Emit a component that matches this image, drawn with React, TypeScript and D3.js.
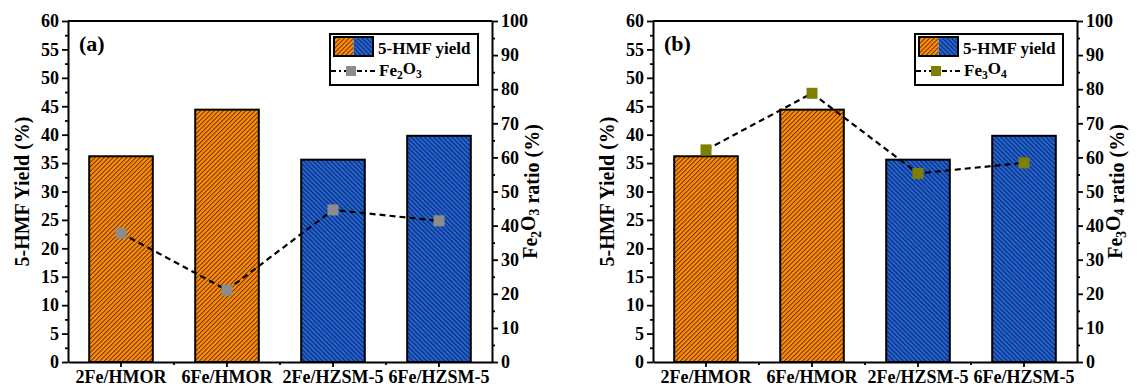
import React, { useEffect, useRef } from "react";
import * as d3 from "d3";

// values
const categories = ["2Fe/HMOR", "6Fe/HMOR", "2Fe/HZSM-5", "6Fe/HZSM-5"];
const supports = ["HMOR", "HMOR", "HZSM-5", "HZSM-5"];
const yieldValues = [36.2, 44.4, 35.6, 39.8];
const fe2o3Ratio = [37.8, 21.1, 44.6, 41.4];
const fe3o4Ratio = [62.2, 78.8, 55.3, 58.4];
const yieldTicks = [0, 5, 10, 15, 20, 25, 30, 35, 40, 45, 50, 55, 60];
const ratioTicks = [0, 10, 20, 30, 40, 50, 60, 70, 80, 90, 100];

const FONT = '"Liberation Serif", "Times New Roman", serif';
const W = 1145, H = 390;
const top = 21, plotH = 341, plotW = 424;

const x = d3.scaleBand().domain(categories).range([0, plotW]).paddingInner(0.4).paddingOuter(0.2);
const yL = d3.scaleLinear().domain([0, 60]).range([plotH, 0]);
const yR = d3.scaleLinear().domain([0, 100]).range([plotH, 0]);
const fillFor = (s) => (s === "HMOR" ? "url(#hatchOrange)" : "url(#hatchBlue)");

function Oxide({ parts }) {
  // parts like ["Fe","2","O","3"]
  return (
    <>
      <tspan>{parts[0]}</tspan>
      <tspan fontSize="0.68em" dy="0.3em">{parts[1]}</tspan>
      <tspan dy="-0.3em">{parts[2]}</tspan>
      <tspan fontSize="0.68em" dy="0.3em">{parts[3]}</tspan>
      <tspan dy="-0.3em"></tspan>
    </>
  );
}

function Panel({ left, tag, ratio, markerFill, oxide }) {
  const gRef = useRef(null);

  useEffect(() => {
    const g = d3.select(gRef.current);
    const style = (sel) => {
      sel.selectAll("path.domain").attr("stroke", "#000").attr("stroke-width", 2);
      sel.selectAll(".tick line").attr("stroke", "#000").attr("stroke-width", 1.8);
      sel.selectAll(".tick text").attr("font-family", FONT).attr("font-weight", "bold").attr("font-size", 18).attr("fill", "#000");
    };
    g.select(".gyl").call(d3.axisLeft(yL).tickValues(yieldTicks).tickSize(6).tickSizeOuter(0).tickPadding(3)).call(style);
    g.select(".gylm").call(d3.axisLeft(yL).tickValues(yieldTicks.slice(1).map((t) => t - 2.5)).tickSize(3).tickFormat(() => "")).call(style);
    g.select(".gyr").call(d3.axisRight(yR).tickValues(ratioTicks).tickSize(6).tickSizeOuter(0).tickPadding(3)).call(style);
    g.select(".gyrm").call(d3.axisRight(yR).tickValues(ratioTicks.slice(1).map((t) => t - 5)).tickSize(3).tickFormat(() => "")).call(style);
    g.select(".gx").call(d3.axisBottom(x).tickSize(5).tickSizeOuter(0).tickPadding(3)).call(style);
    g.selectAll(".gylm path.domain, .gyrm path.domain").remove();
  }, []);

  const line = d3.line()
    .x((d, i) => x(categories[i]) + x.bandwidth() / 2)
    .y((d) => yR(d));

  const boundaries = categories.slice(0, -1).map((c) => x(c) + x.bandwidth() + (x.step() - x.bandwidth()) / 2);

  return (
    <g ref={gRef} transform={`translate(${left},${top})`}>
      {categories.map((c, i) => (
        <rect key={c} x={x(c)} y={yL(yieldValues[i])} width={x.bandwidth()} height={plotH - yL(yieldValues[i])}
          fill={fillFor(supports[i])} stroke="#000" strokeWidth={2} />
      ))}
      <path d={line(ratio)} fill="none" stroke="#000" strokeWidth={2.2} strokeDasharray="6,4" />
      {ratio.map((v, i) => (
        <rect key={i} x={x(categories[i]) + x.bandwidth() / 2 - 5.5} y={yR(v) - 5.5} width={11} height={11} fill={markerFill} />
      ))}

      <line x1={0} x2={plotW} y1={0} y2={0} stroke="#000" strokeWidth={2} />
      <g className="gx" transform={`translate(0,${plotH})`} />
      {boundaries.map((b, i) => (
        <line key={i} x1={b} x2={b} y1={plotH} y2={plotH + 3} stroke="#000" strokeWidth={1.8} />
      ))}
      <g className="gyl" />
      <g className="gylm" />
      <g className="gyr" transform={`translate(${plotW},0)`} />
      <g className="gyrm" transform={`translate(${plotW},0)`} />

      <text x={11} y={30} fontFamily={FONT} fontWeight="bold" fontSize={22}>{tag}</text>

      <text transform={`translate(-39,${plotH / 2}) rotate(-90)`} textAnchor="middle" fontFamily={FONT} fontWeight="bold" fontSize={20}>
        5-HMF Yield (%)
      </text>
      <text transform={`translate(${plotW + 45},${plotH / 2}) rotate(-90)`} textAnchor="middle" fontFamily={FONT} fontWeight="bold" fontSize={20}>
        <Oxide parts={oxide} /> ratio (%)
      </text>

      <g transform="translate(262,13)" fontFamily={FONT} fontWeight="bold" fontSize={17}>
        <rect x={0} y={0} width={148} height={51} fill="#fff" stroke="#000" strokeWidth={2} />
        <rect x={4} y={3} width={19.5} height={19} fill="url(#hatchOrange)" />
        <rect x={23.5} y={3} width={19.5} height={19} fill="url(#hatchBlue)" />
        <rect x={4} y={3} width={39} height={19} fill="none" stroke="#000" strokeWidth={2} />
        <text x={48} y={20}>5-HMF yield</text>
        <line x1={1} x2={47} y1={37} y2={37} stroke="#000" strokeWidth={2} strokeDasharray="5,3,2,3" />
        <rect x={16} y={32} width={10} height={10} fill={markerFill} />
        <text x={49} y={42}><Oxide parts={oxide} /></text>
      </g>
    </g>
  );
}

export default function App() {
  return (
    <svg width={W} height={H} style={{ position: "absolute", left: 0, top: 0, background: "#fff" }}>
      <defs>
        <pattern id="hatchOrange" patternUnits="userSpaceOnUse" width={3.2} height={10} patternTransform="rotate(45)">
          <rect width={3.2} height={10} fill="#FF8C0A" />
          <line x1={0.5} x2={0.5} y1={0} y2={10} stroke="#5a2c00" strokeWidth={0.9} />
        </pattern>
        <pattern id="hatchBlue" patternUnits="userSpaceOnUse" width={3.2} height={10} patternTransform="rotate(-45)">
          <rect width={3.2} height={10} fill="#2263D6" />
          <line x1={0.5} x2={0.5} y1={0} y2={10} stroke="#0a1f4f" strokeWidth={0.9} />
        </pattern>
      </defs>
      <rect width={W} height={H} fill="#fff" />
      <Panel left={68} tag="(a)" ratio={fe2o3Ratio} markerFill="#8c8c8c" oxide={["Fe", "2", "O", "3"]} />
      <Panel left={653} tag="(b)" ratio={fe3o4Ratio} markerFill="#808000" oxide={["Fe", "3", "O", "4"]} />
    </svg>
  );
}
